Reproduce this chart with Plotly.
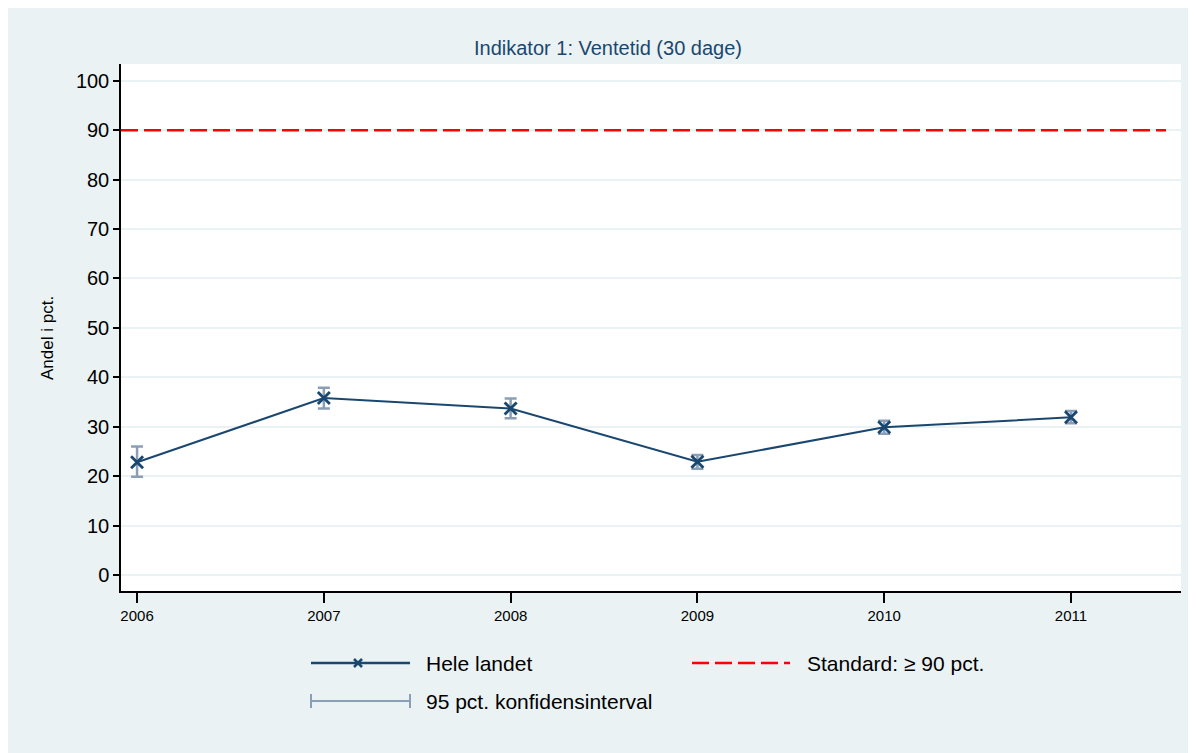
import plotly.graph_objects as go

years = [2006, 2007, 2008, 2009, 2010, 2011]
andel = [22.8, 35.8, 33.7, 22.9, 29.9, 31.9]
ci_low = [19.9, 33.7, 31.7, 21.5, 28.6, 30.7]
ci_high = [26.0, 37.9, 35.7, 24.3, 31.2, 33.2]
standard = 90
tick_vals_y = list(range(0, 101, 10))

title_txt = "Indikator 1: Ventetid (30 dage)"
ytitle = "Andel i pct."
leg_main = "Hele landet"
leg_std = "Standard: \u2265 90 pct."
leg_ci = "95 pct. konfidensinterval"

NAVY = "#1a476f"
CI_COL = "rgb(138,158,182)"
BG = "rgb(234,242,243)"
FONT = "Liberation Sans, Arial, sans-serif"

OFF = 8  # page body margin
W, H = 1196 - OFF, 753 - OFF
# plot area in reference pixel coordinates
L, R, T, B = 121, 1181, 64, 591

def px_x(p):
    return (p - L) / (R - L)

def px_y(p):
    return (B - p) / (B - T)

fig = go.Figure()

fig.add_trace(go.Scatter(
    x=years, y=andel, mode="markers",
    marker=dict(size=1, color="rgba(0,0,0,0)"),
    error_y=dict(type="data", symmetric=False,
                 array=[h - a for h, a in zip(ci_high, andel)],
                 arrayminus=[a - l for a, l in zip(andel, ci_low)],
                 color=CI_COL, thickness=2.5, width=6),
    showlegend=False, hoverinfo="skip"))

fig.add_trace(go.Scatter(
    x=years, y=andel, mode="lines+markers",
    line=dict(color=NAVY, width=2),
    marker=dict(symbol="x-thin-open", size=12, line=dict(color=NAVY, width=2.8)),
    showlegend=False))

shapes = []
shapes.append(dict(type="rect", xref="paper", yref="paper",
                   x0=0, x1=1, y0=0, y1=1,
                   fillcolor="white", line=dict(width=0), layer="below"))
shapes.append(dict(type="line", xref="paper", yref="y",
                   x0=0, x1=px_x(1166), y0=standard, y1=standard,
                   line=dict(color="red", width=2.5, dash="17px,6px")))

# legend
y1 = px_y(663)
y2 = px_y(701)
shapes.append(dict(type="line", xref="paper", yref="paper",
                   x0=px_x(311), x1=px_x(410), y0=y1, y1=y1,
                   line=dict(color=NAVY, width=2.5)))
mx, my, d = 358, 663, 4
for a, b in [((mx - d, my - d), (mx + d, my + d)), ((mx - d, my + d), (mx + d, my - d))]:
    shapes.append(dict(type="line", xref="paper", yref="paper",
                       x0=px_x(a[0]), y0=px_y(a[1]), x1=px_x(b[0]), y1=px_y(b[1]),
                       line=dict(color=NAVY, width=2.5)))
shapes.append(dict(type="line", xref="paper", yref="paper",
                   x0=px_x(692), x1=px_x(790), y0=y1, y1=y1,
                   line=dict(color="red", width=2.5, dash="17px,6px")))
shapes.append(dict(type="line", xref="paper", yref="paper",
                   x0=px_x(311), x1=px_x(410), y0=y2, y1=y2,
                   line=dict(color=CI_COL, width=2)))
for xc in (311, 410):
    shapes.append(dict(type="line", xref="paper", yref="paper",
                       x0=px_x(xc), x1=px_x(xc), y0=px_y(694), y1=px_y(708),
                       line=dict(color=CI_COL, width=2)))

annotations = [
    dict(text=title_txt, xref="paper", yref="paper", x=px_x(608), y=px_y(48),
         showarrow=False, font=dict(family=FONT, size=20, color=NAVY),
         xanchor="center", yanchor="middle"),
    dict(text=ytitle, xref="paper", yref="paper", x=px_x(47), y=px_y(338),
         showarrow=False, textangle=-90, font=dict(family=FONT, size=17, color="black"),
         xanchor="center", yanchor="middle"),
    dict(text=leg_main, xref="paper", yref="paper", x=px_x(424), y=y1,
         showarrow=False, font=dict(family=FONT, size=21, color="black"),
         xanchor="left", yanchor="middle"),
    dict(text=leg_std, xref="paper", yref="paper", x=px_x(805), y=y1,
         showarrow=False, font=dict(family=FONT, size=21, color="black"),
         xanchor="left", yanchor="middle"),
    dict(text=leg_ci, xref="paper", yref="paper", x=px_x(424), y=y2,
         showarrow=False, font=dict(family=FONT, size=21, color="black"),
         xanchor="left", yanchor="middle"),
]

fig.update_layout(
    width=W, height=H,
    margin=dict(l=L - OFF, r=W - (R - OFF), t=T - OFF, b=H - (B - OFF), pad=0),
    paper_bgcolor=BG, plot_bgcolor="white",
    font=dict(family=FONT, color="black"),
    shapes=shapes, annotations=annotations, showlegend=False,
    xaxis=dict(range=[2005.914, 2011.589], tickvals=years, ticktext=[str(y) for y in years],
               ticks="outside", ticklen=10, tickwidth=1.5, tickcolor="black",
               showline=True, linecolor="black", linewidth=1.5,
               showgrid=False, zeroline=False, tickfont=dict(size=15, family=FONT)),
    yaxis=dict(range=[-3.24, 103.4], tickvals=tick_vals_y,
               ticks="outside", ticklen=6, tickwidth=1.5, tickcolor="black",
               showline=True, linecolor="black", linewidth=1.5,
               showgrid=True, gridcolor=BG, gridwidth=2, zeroline=False,
               tickfont=dict(size=20, family=FONT)),
)

fig.write_html("out.html")
